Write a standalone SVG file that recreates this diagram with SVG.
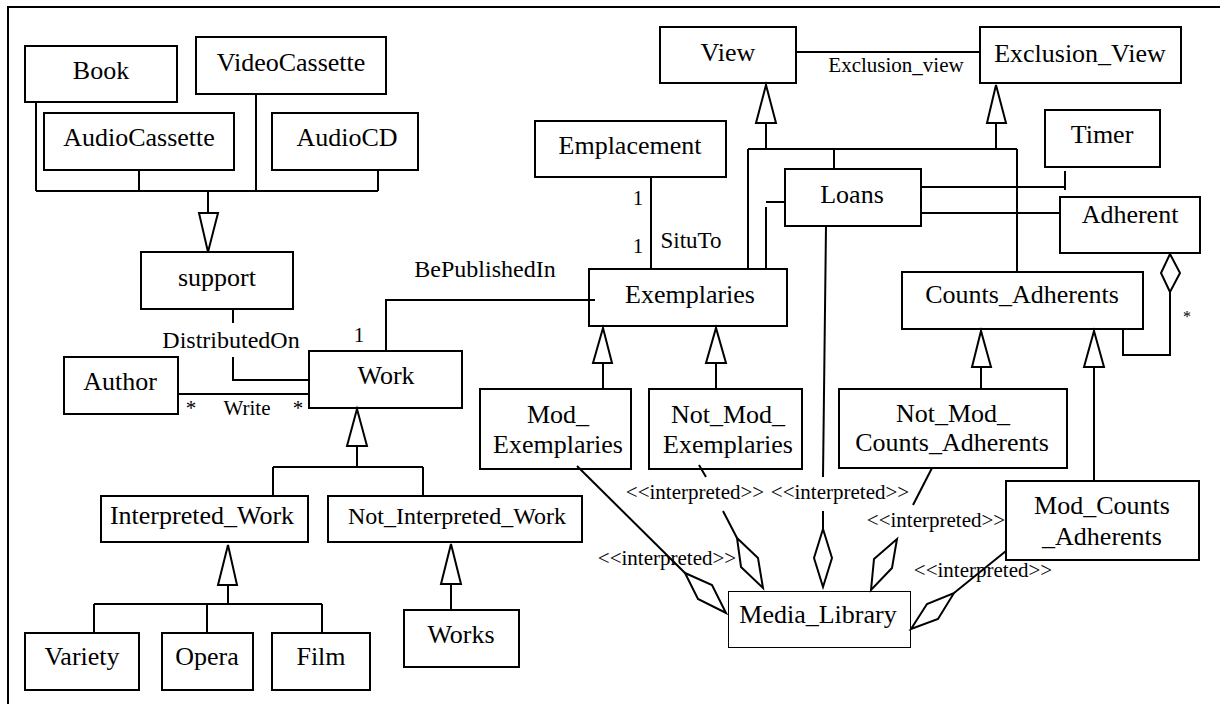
<svg xmlns="http://www.w3.org/2000/svg" width="1220" height="704" viewBox="0 0 1220 704">
<style>
.box{fill:#fff;stroke:#000;stroke-width:2}
.thin{fill:#fff;stroke:#000;stroke-width:1}
.t{font-family:"Liberation Serif","Times New Roman",serif;font-size:26px;text-anchor:middle;fill:#000}
.s{font-family:"Liberation Serif","Times New Roman",serif;font-size:21px;text-anchor:middle;fill:#000}
.m{font-family:"Liberation Serif","Times New Roman",serif;font-size:24px;text-anchor:middle;fill:#000}
.ln{fill:none;stroke:#000;stroke-width:2}
.hd{fill:#fff;stroke:#000;stroke-width:2;stroke-linejoin:miter}
</style>
<rect width="1220" height="704" fill="#fff"/>
<path d="M8,704 V7 H1220" fill="none" stroke="#000" stroke-width="2"/>

<g id="Book"><rect class="box" x="25" y="46" width="152" height="56"/><text class="t" x="101" y="79">Book</text></g>
<g id="VideoCassette"><rect class="box" x="196" y="37" width="190" height="57"/><text class="t" x="291" y="71">VideoCassette</text></g>
<g id="AudioCassette"><rect class="box" x="44" y="113" width="190" height="57"/><text class="t" x="139" y="146">AudioCassette</text></g>
<g id="AudioCD"><rect class="box" x="272" y="113" width="146" height="57"/><text class="t" x="347" y="146">AudioCD</text></g>
<g id="support"><rect class="box" x="141" y="252" width="152" height="57"/><text class="t" x="217" y="286">support</text></g>
<g id="Author"><rect class="box" x="64" y="357" width="114" height="57"/><text class="t" x="120" y="390">Author</text></g>
<g id="Work"><rect class="box" x="309" y="351" width="153" height="57"/><text class="t" x="386" y="384">Work</text></g>
<g id="Interpreted_Work"><rect class="box" x="101" y="496" width="207" height="46"/><text class="t" x="202" y="524">Interpreted_Work</text></g>
<g id="Not_Interpreted_Work"><rect class="box" x="328" y="496" width="254" height="46"/><text class="m" x="457" y="524">Not_Interpreted_Work</text></g>
<g id="Variety"><rect class="box" x="25" y="633" width="114" height="57"/><text class="t" x="82" y="665">Variety</text></g>
<g id="Opera"><rect class="box" x="162" y="633" width="91" height="57"/><text class="t" x="207" y="665">Opera</text></g>
<g id="Film"><rect class="box" x="272" y="633" width="98" height="57"/><text class="t" x="321" y="665">Film</text></g>
<g id="Works"><rect class="box" x="404" y="610" width="115" height="57"/><text class="t" x="461" y="643">Works</text></g>
<g id="Emplacement"><rect class="box" x="535" y="121" width="191" height="56"/><text class="t" x="630" y="154">Emplacement</text></g>
<g id="Exemplaries"><rect class="box" x="589" y="269" width="198" height="57"/><text class="t" x="690" y="303">Exemplaries</text></g>
<g id="Mod_Exemplaries"><rect class="box" x="480" y="389" width="151" height="80"/><text class="t" x="558" y="423">Mod_</text><text class="t" x="558" y="453">Exemplaries</text></g>
<g id="Not_Mod_Exemplaries"><rect class="box" x="649" y="389" width="153" height="80"/><text class="t" x="728" y="423">Not_Mod_</text><text class="t" x="728" y="453">Exemplaries</text></g>
<g id="View"><rect class="box" x="660" y="27" width="136" height="56"/><text class="t" x="728" y="61">View</text></g>
<g id="Exclusion_View"><rect class="box" x="980" y="27" width="201" height="56"/><text class="t" x="1080" y="62">Exclusion_View</text></g>
<g id="Timer"><rect class="box" x="1045" y="110" width="115" height="57"/><text class="t" x="1102" y="143">Timer</text></g>
<g id="Loans"><rect class="box" x="785" y="169" width="136" height="57"/><text class="t" x="852" y="203">Loans</text></g>
<g id="Adherent"><rect class="box" x="1060" y="197" width="140" height="56"/><text class="t" x="1130" y="223">Adherent</text></g>
<g id="Counts_Adherents"><rect class="box" x="902" y="272" width="241" height="57"/><text class="t" x="1022" y="303">Counts_Adherents</text></g>
<g id="Not_Mod_Counts_Adherents"><rect class="box" x="839" y="389" width="228" height="79"/><text class="t" x="953" y="422">Not_Mod_</text><text class="t" x="952" y="451">Counts_Adherents</text></g>
<g id="Mod_Counts_Adherents"><rect class="box" x="1006" y="481" width="193" height="79"/><text class="t" x="1102" y="514">Mod_Counts</text><text class="t" x="1102" y="545">_Adherents</text></g>
<g id="Media_Library"><rect class="thin" x="728.5" y="591.5" width="182" height="56"/><text class="t" x="818" y="623">Media_Library</text></g>

<g id="connectors">
<path class="ln" d="M36,102 V191 M139,170 V191 M256,94 V191 M378,170 V191 M36,191 H378 M208,191 V213"/>
<polygon class="hd" points="199,213 218,213 208,252"/>
<path class="ln" d="M233,309 V323 M233,357 V380 H309"/>
<text class="m" x="231" y="348">DistributedOn</text>
<path class="ln" d="M178,394 H309"/>
<text class="s" x="191" y="415">*</text>
<text class="s" x="247" y="415">Write</text>
<text class="s" x="298" y="415">*</text>
<path class="ln" d="M386,351 V300 H595"/>
<text class="s" x="359" y="342">1</text>
<text class="m" x="485" y="277">BePublishedIn</text>
<polygon class="hd" points="347,446 367,446 357,409"/>
<path class="ln" d="M357,446 V467 M273,467 H423 M273,467 V496 M423,467 V496"/>
<polygon class="hd" points="218,585 237,585 228,545"/>
<path class="ln" d="M228,585 V604 M94,604 H322 M94,604 V633 M207,604 V633 M322,604 V633"/>
<polygon class="hd" points="441,584 461,584 451,544"/>
<path class="ln" d="M451,584 V610"/>
<path class="ln" d="M651,177 V269"/>
<text class="s" x="638" y="205">1</text>
<text class="s" x="638" y="253">1</text>
<text class="s" x="691" y="248" style="font-size:23px">SituTo</text>
<path class="ln" d="M796,52 H980"/>
<text class="s" x="896" y="72">Exclusion_view</text>
<polygon class="hd" points="756,123 776,123 766,85"/>
<polygon class="hd" points="987,123 1006,123 996,85"/>
<path class="ln" d="M766,123 V149 M996,123 V149 M748,149 H1017 M748,149 V269 M834,149 V169 M1017,149 V272"/>
<path class="ln" d="M785,202 H766 M766,207 V269 M921,187 H1065 M1065,171 V190 M921,213 H1060"/>
<path class="ln" d="M826,226 L823,477 M823,511 V529"/>
<polygon class="hd" points="823,529 832,558 823,587 814,558"/>
<polygon class="hd" points="1170,254 1180,273 1170,292 1161,273"/>
<path class="ln" d="M1170,292 V355 H1123 V329"/>
<text class="s" x="1187" y="322" style="font-size:16px">*</text>
<polygon class="hd" points="593,363 612,363 603,328"/>
<polygon class="hd" points="706,363 726,363 716,328"/>
<path class="ln" d="M603,363 V389 M716,363 V389"/>
<polygon class="hd" points="972,367 991,367 981,331"/>
<polygon class="hd" points="1084,367 1104,367 1094,331"/>
<path class="ln" d="M981,367 V389 M1094,367 V481"/>
<path class="ln" d="M577,466 L685,573"/>
<polygon class="hd" points="685,573 712,585 726,613 698,599"/>
<text class="s" x="667" y="565">&lt;&lt;interpreted&gt;&gt;</text>
<path class="ln" d="M699,465 L706,477 M723,511 L737,538"/>
<polygon class="hd" points="737,538 758,558 763,588 741,567"/>
<text class="s" x="695" y="499">&lt;&lt;interpreted&gt;&gt;</text>
<text class="s" x="840" y="499">&lt;&lt;interpreted&gt;&gt;</text>
<path class="ln" d="M932,468 L913,505"/>
<polygon class="hd" points="897,539 892,568 871,590 874,559"/>
<text class="s" x="936" y="527">&lt;&lt;interpreted&gt;&gt;</text>
<path class="ln" d="M1006,551 L954,593"/>
<polygon class="hd" points="954,593 938,619 911,629 927,604"/>
<text class="s" x="983" y="577">&lt;&lt;interpreted&gt;&gt;</text>
</g>
</svg>
